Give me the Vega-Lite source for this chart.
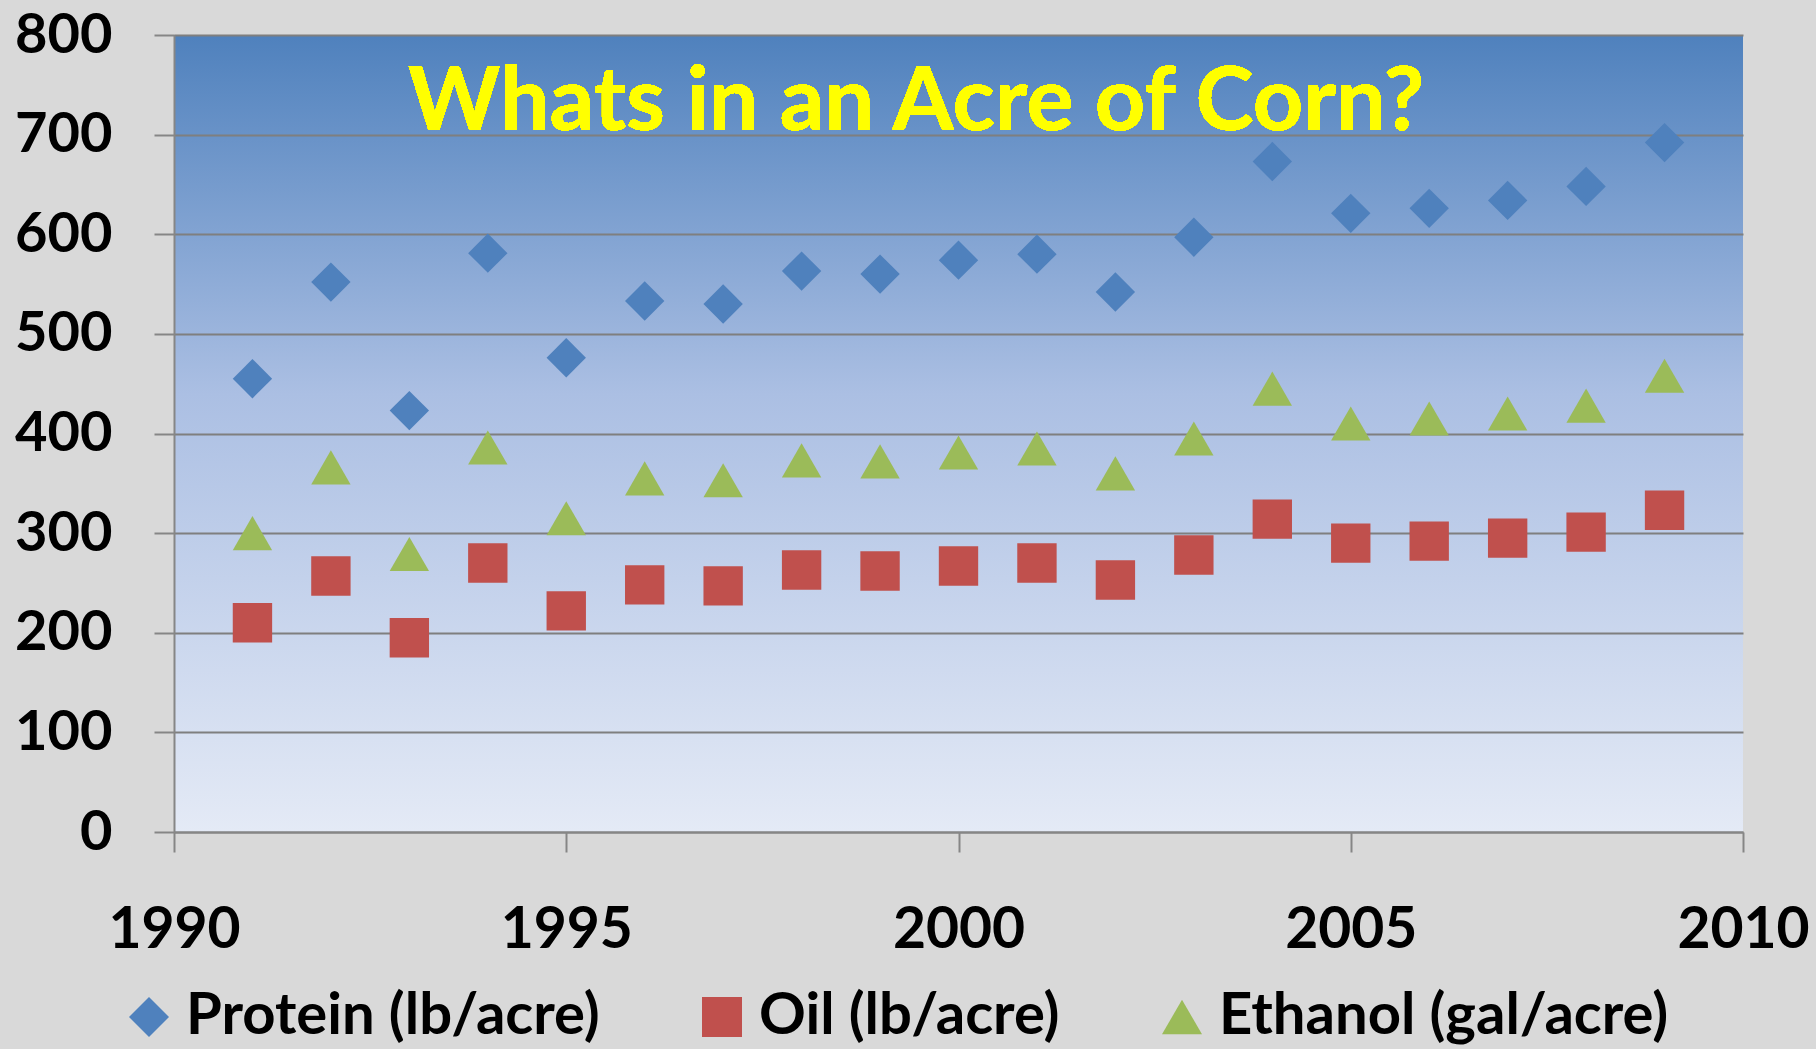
{
  "$schema": "https://vega.github.io/schema/vega-lite/v6.json",
  "width": 1569,
  "height": 797,
  "autosize": {"type": "none"},
  "padding": {"left": 174, "top": 35, "right": 73, "bottom": 217},
  "background": "#d9d9d9",
  "view": {
    "stroke": null,
    "fill": {
      "gradient": "linear", "x1": 0, "y1": 0, "x2": 0, "y2": 1,
      "stops": [
        {"offset": 0, "color": "#4f81bd"},
        {"offset": 0.45, "color": "#abbfe3"},
        {"offset": 1, "color": "#e4eaf6"}
      ]
    }
  },
  "data": {
    "values": [
      {"year": 1991, "series": "Protein (lb/acre)", "value": 455},
      {"year": 1992, "series": "Protein (lb/acre)", "value": 552},
      {"year": 1993, "series": "Protein (lb/acre)", "value": 423},
      {"year": 1994, "series": "Protein (lb/acre)", "value": 581},
      {"year": 1995, "series": "Protein (lb/acre)", "value": 476},
      {"year": 1996, "series": "Protein (lb/acre)", "value": 533},
      {"year": 1997, "series": "Protein (lb/acre)", "value": 530},
      {"year": 1998, "series": "Protein (lb/acre)", "value": 563},
      {"year": 1999, "series": "Protein (lb/acre)", "value": 560},
      {"year": 2000, "series": "Protein (lb/acre)", "value": 574},
      {"year": 2001, "series": "Protein (lb/acre)", "value": 580},
      {"year": 2002, "series": "Protein (lb/acre)", "value": 542},
      {"year": 2003, "series": "Protein (lb/acre)", "value": 597},
      {"year": 2004, "series": "Protein (lb/acre)", "value": 673},
      {"year": 2005, "series": "Protein (lb/acre)", "value": 621},
      {"year": 2006, "series": "Protein (lb/acre)", "value": 626},
      {"year": 2007, "series": "Protein (lb/acre)", "value": 634},
      {"year": 2008, "series": "Protein (lb/acre)", "value": 648},
      {"year": 2009, "series": "Protein (lb/acre)", "value": 692},
      {"year": 1991, "series": "Oil (lb/acre)", "value": 210},
      {"year": 1992, "series": "Oil (lb/acre)", "value": 257},
      {"year": 1993, "series": "Oil (lb/acre)", "value": 195},
      {"year": 1994, "series": "Oil (lb/acre)", "value": 270},
      {"year": 1995, "series": "Oil (lb/acre)", "value": 222},
      {"year": 1996, "series": "Oil (lb/acre)", "value": 248},
      {"year": 1997, "series": "Oil (lb/acre)", "value": 247},
      {"year": 1998, "series": "Oil (lb/acre)", "value": 263},
      {"year": 1999, "series": "Oil (lb/acre)", "value": 262},
      {"year": 2000, "series": "Oil (lb/acre)", "value": 267},
      {"year": 2001, "series": "Oil (lb/acre)", "value": 270},
      {"year": 2002, "series": "Oil (lb/acre)", "value": 253},
      {"year": 2003, "series": "Oil (lb/acre)", "value": 278},
      {"year": 2004, "series": "Oil (lb/acre)", "value": 314},
      {"year": 2005, "series": "Oil (lb/acre)", "value": 290},
      {"year": 2006, "series": "Oil (lb/acre)", "value": 292},
      {"year": 2007, "series": "Oil (lb/acre)", "value": 295},
      {"year": 2008, "series": "Oil (lb/acre)", "value": 301},
      {"year": 2009, "series": "Oil (lb/acre)", "value": 323},
      {"year": 1991, "series": "Ethanol (gal/acre)", "value": 300},
      {"year": 1992, "series": "Ethanol (gal/acre)", "value": 366},
      {"year": 1993, "series": "Ethanol (gal/acre)", "value": 279},
      {"year": 1994, "series": "Ethanol (gal/acre)", "value": 386},
      {"year": 1995, "series": "Ethanol (gal/acre)", "value": 315},
      {"year": 1996, "series": "Ethanol (gal/acre)", "value": 355},
      {"year": 1997, "series": "Ethanol (gal/acre)", "value": 353},
      {"year": 1998, "series": "Ethanol (gal/acre)", "value": 373},
      {"year": 1999, "series": "Ethanol (gal/acre)", "value": 372},
      {"year": 2000, "series": "Ethanol (gal/acre)", "value": 381},
      {"year": 2001, "series": "Ethanol (gal/acre)", "value": 385},
      {"year": 2002, "series": "Ethanol (gal/acre)", "value": 360},
      {"year": 2003, "series": "Ethanol (gal/acre)", "value": 395},
      {"year": 2004, "series": "Ethanol (gal/acre)", "value": 445},
      {"year": 2005, "series": "Ethanol (gal/acre)", "value": 410},
      {"year": 2006, "series": "Ethanol (gal/acre)", "value": 415},
      {"year": 2007, "series": "Ethanol (gal/acre)", "value": 420},
      {"year": 2008, "series": "Ethanol (gal/acre)", "value": 428},
      {"year": 2009, "series": "Ethanol (gal/acre)", "value": 458}
    ]
  },
  "layer": [
    {
      "mark": {"type": "point", "filled": true, "opacity": 1, "size": 1550, "strokeWidth": 0},
      "encoding": {
        "x": {
          "field": "year", "type": "quantitative",
          "scale": {"domain": [1990, 2010], "nice": false, "zero": false},
          "axis": {
            "values": [1990, 1995, 2000, 2005, 2010], "format": "d", "title": null, "grid": false,
            "tickSize": 20, "tickColor": "#868686", "tickWidth": 2,
            "domainColor": "#868686", "domainWidth": 2,
            "labelFont": "Lato", "labelFontSize": 57, "labelFontWeight": "bold", "labelColor": "#000000",
            "labelPadding": 50, "labelFlush": false, "labelOverlap": false
          }
        },
        "y": {
          "field": "value", "type": "quantitative",
          "scale": {"domain": [0, 800], "nice": false},
          "axis": {
            "values": [0, 100, 200, 300, 400, 500, 600, 700, 800], "title": null,
            "grid": true, "gridColor": "#7f7f7f", "gridWidth": 2,
            "tickSize": 20, "tickColor": "#868686", "tickWidth": 2,
            "domainColor": "#868686", "domainWidth": 2,
            "labelFont": "Lato", "labelFontSize": 56, "labelFontWeight": "bold", "labelColor": "#000000",
            "labelPadding": 42, "labelOverlap": false
          }
        },
        "color": {
          "field": "series", "type": "nominal",
          "scale": {
            "domain": ["Protein (lb/acre)", "Oil (lb/acre)", "Ethanol (gal/acre)"],
            "range": ["#4f81bd", "#c0504d", "#9bbb59"]
          },
          "legend": {
            "title": null, "orient": "none", "legendX": -54, "legendY": 953, "direction": "horizontal",
            "labelFont": "Lato", "labelFontSize": 58, "labelFontWeight": "bold", "labelColor": "#000000",
            "symbolSize": 1600, "symbolOpacity": 1, "symbolStrokeWidth": 0, "labelOffset": 8,
            "columnPadding": 93, "padding": 0, "labelLimit": 1000
          }
        },
        "shape": {
          "field": "series", "type": "nominal",
          "scale": {
            "domain": ["Protein (lb/acre)", "Oil (lb/acre)", "Ethanol (gal/acre)"],
            "range": ["diamond", "square", "triangle-up"]
          },
          "legend": {
            "title": null, "orient": "none", "legendX": -54, "legendY": 953, "direction": "horizontal",
            "labelFont": "Lato", "labelFontSize": 58, "labelFontWeight": "bold", "labelColor": "#000000",
            "symbolSize": 1600, "symbolOpacity": 1, "symbolStrokeWidth": 0, "labelOffset": 8,
            "columnPadding": 93, "padding": 0, "labelLimit": 1000
          }
        }
      }
    },
    {
      "mark": {
        "type": "text", "text": "Whats in an Acre of Corn?", "font": "Lato", "fontSize": 88,
        "fontWeight": "bold", "color": "#ffff00", "align": "center", "baseline": "alphabetic"
      },
      "encoding": {
        "x": {"datum": 1999.46, "type": "quantitative"},
        "y": {"datum": 705, "type": "quantitative"}
      }
    }
  ]
}
